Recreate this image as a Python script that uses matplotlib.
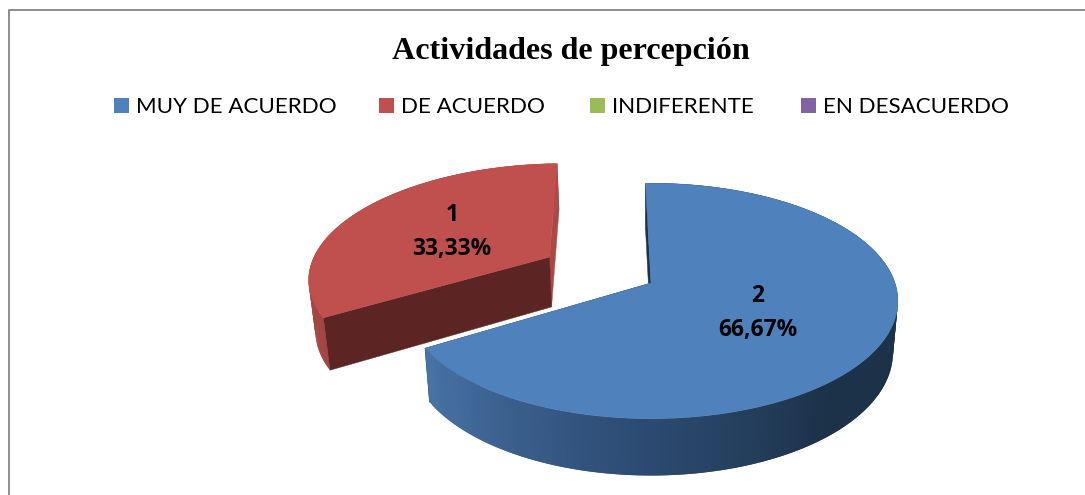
"""Exploded 3D pie of the 'Actividades de percepcion' survey answers."""
import numpy as np
import matplotlib
matplotlib.use('Agg')
import matplotlib.pyplot as plt
from matplotlib.patches import Rectangle

TITLE = 'Actividades de percepción'
categories = ['MUY DE ACUERDO', 'DE ACUERDO', 'INDIFERENTE', 'EN DESACUERDO']
values = [2, 1, 0, 0]
explode = [0.0, 0.49, 0.0, 0.0]

top_colors = ['#4f81bd', '#c0504d', '#9bbb59', '#8064a2']
cut_colors = ['#1c3249', '#5c2523']
side_colors = ['#1c3249', '#ab4744']
rim_stops = [
    ['#4a75a8', '#30507a', '#1c3249', '#1c3249'],
    ['#b04a47', '#a54541', '#a54541', '#a54541'],
]

# layout, in image pixels
CX, CY = 651.0, 283.0
RX = 244.0
RY = 115.0
PERSP = 0.1525
START = -1.5
legend_x = [114, 379, 590, 801]
label_xy = [(758, 313), (452, 232)]


def project(u, v):
    # disc coordinates to picture, v grows towards the viewer
    w = 1 - PERSP * v
    return CX + RX * u / w, CY + RY * v / w


def lower(x, y):
    # same point on the bottom face of the pie
    return CX + 0.98 * (x - CX), y + 51 + 0.043 * (y - CY)


def disc_point(t_deg, off):
    t = np.radians(t_deg)
    return project(off[0] + np.sin(t), off[1] - np.cos(t))


def blend(stops, f):
    rgb = np.array([matplotlib.colors.to_rgb(c) for c in stops])
    pos = np.linspace(0, 1, len(stops))
    return [np.interp(f, pos, rgb[:, i]) for i in range(3)]


def draw_slice(ax, a0, a1, off, idx):
    ts = np.linspace(a0, a1, 160)
    ax_x, ax_y = project(off[0], off[1])
    xs, ys = disc_point(ts, off)
    bx0, by0 = lower(ax_x, ax_y)

    # the two cut faces: the first one sits in front of the rim
    for k, col, z in ((0, cut_colors[idx], 2), (-1, side_colors[idx], 0.5)):
        bx1, by1 = lower(xs[k], ys[k])
        ax.fill([ax_x, xs[k], bx1, bx0], [ax_y, ys[k], by1, by0], color=col, lw=0.3, zorder=z)

    # outer rim, shaded along the sweep; quads overlap so no seams show
    bxs, bys = lower(xs, ys)
    for i in range(len(ts) - 2):
        f = (a1 - ts[i]) / max(a1 - 90, 1)
        col = blend(rim_stops[idx], min(f, 1))
        ax.fill([xs[i], xs[i + 2], bxs[i + 2], bxs[i]],
                [ys[i], ys[i + 2], bys[i + 2], bys[i]],
                color=col, lw=0, zorder=1)

    ax.fill(np.r_[ax_x, xs], np.r_[ax_y, ys], color=top_colors[idx], lw=0.3, zorder=3)


def main():
    fig = plt.figure(figsize=(10.85, 4.95), dpi=100)
    ax = fig.add_axes([0, 0, 1, 1])
    ax.set_xlim(0, 1085)
    ax.set_ylim(495, 0)
    ax.axis('off')

    # chart border: only the top and left show in the crop
    ax.plot([8.5, 8.5, 1085], [495, 10, 10], color='#8c8c8c', lw=1.4, zorder=0)

    ax.text(570.5, 52, TITLE, family='Liberation Serif', weight='bold', fontsize=23.1,
            ha='center', va='center', color='black')

    for x, name, col in zip(legend_x, categories, top_colors):
        ax.add_patch(Rectangle((x, 98), 15, 15, color=col, lw=0))
        ax.text(x + 22, 107, name, family='Lato', fontsize=16.1, ha='left', va='center',
                color='black')

    total = sum(values)
    angle = START
    slices = []
    for i, val in enumerate(values):
        sweep = 360.0 * val / total
        if val > 0:
            slices.append((i, angle, angle + sweep))
        angle += sweep

    for i, a0, a1 in slices:
        mid = np.radians((a0 + a1) / 2)
        off = (explode[i] * np.sin(mid), -explode[i] * np.cos(mid))
        draw_slice(ax, a0, a1, off, i)
        pct = f'{100.0 * values[i] / total:.2f}'.replace('.', ',') + '%'
        ax.text(label_xy[i][0], label_xy[i][1], f'{values[i]}\n{pct}', family='Open Sans',
                weight='bold', fontsize=16.4, ha='center', va='center', color='black',
                linespacing=1.6, zorder=5)

    fig.savefig('out.png', dpi=100)
    plt.close(fig)


if __name__ == '__main__':
    main()
